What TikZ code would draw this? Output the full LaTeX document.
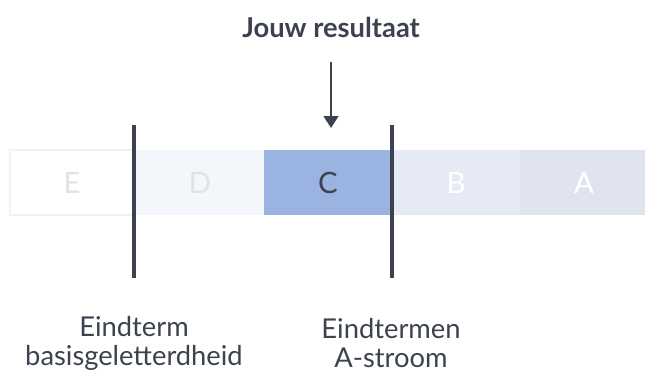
\documentclass[tikz,border=0pt]{standalone}
\usepackage{fontspec}
\setmainfont{Lato}
\usepackage{tikz}
\usetikzlibrary{arrows.meta, positioning}
\definecolor{ink}{RGB}{61,66,80}
\definecolor{cfill}{RGB}{154,179,224}
\definecolor{dfill}{RGB}{243,246,251}
\definecolor{bfill}{RGB}{230,234,245}
\definecolor{afill}{RGB}{224,228,240}
\definecolor{eline}{RGB}{236,241,250}
\definecolor{pale}{RGB}{226,226,226}
\tikzstyle{level} = [minimum width = 96pt, minimum height = 48.75pt, inner sep = 0pt, font = \fontsize{22}{26}\selectfont]
\tikzstyle{cut} = [draw = ink, line width = 2.4pt]
\tikzstyle{caption} = [align = center, text = ink, font = \fontsize{20.5}{21.75}\selectfont]

\begin{document}
\begin{tikzpicture}[x = 0.75pt, y = -0.75pt]
			\useasboundingbox (0,0) rectangle (645,369);
			\node [level, fill = white, draw = eline, line width = 1.5pt, minimum width = 93.5pt, text = pale] (E) at (72, 182.5) {E};
			\node [level, fill = dfill, text = pale] (D) at (200, 182.5) {D};
			\node [level, fill = cfill, text = ink] (C) at (328, 182.5) {C};
			\node [level, fill = bfill, text = white] (B) at (456, 182.5) {B};
			\node [level, fill = afill, text = white] (A) at (584, 182.5) {A};
			
			\coordinate (cut1top) at (134, 125);
			\coordinate (cut1bot) at (134, 278);
			\coordinate (cut2top) at (392, 125);
			\coordinate (cut2bot) at (392, 278);
			\path [cut] (cut1top) -- (cut1bot);
			\path [cut] (cut2top) -- (cut2bot);
			
			\node [text = ink, font = \fontsize{20.5}{24}\selectfont\bfseries] (title) at (331, 27) {Jouw resultaat};
			\coordinate (arrowtop) at (331, 62);
			\coordinate (arrowtip) at (331, 128);
			\draw [ink, line width = 1.9pt, -{Triangle[length = 9pt, width = 11pt]}] (arrowtop) -- (arrowtip);
			
			\node [caption] (basis) at (134, 343) {Eindterm\\basisgeletterdheid};
			\node [caption] (astroom) at (391, 343) {Eindtermen\\A-stroom};
		\end{tikzpicture}
\end{document}
